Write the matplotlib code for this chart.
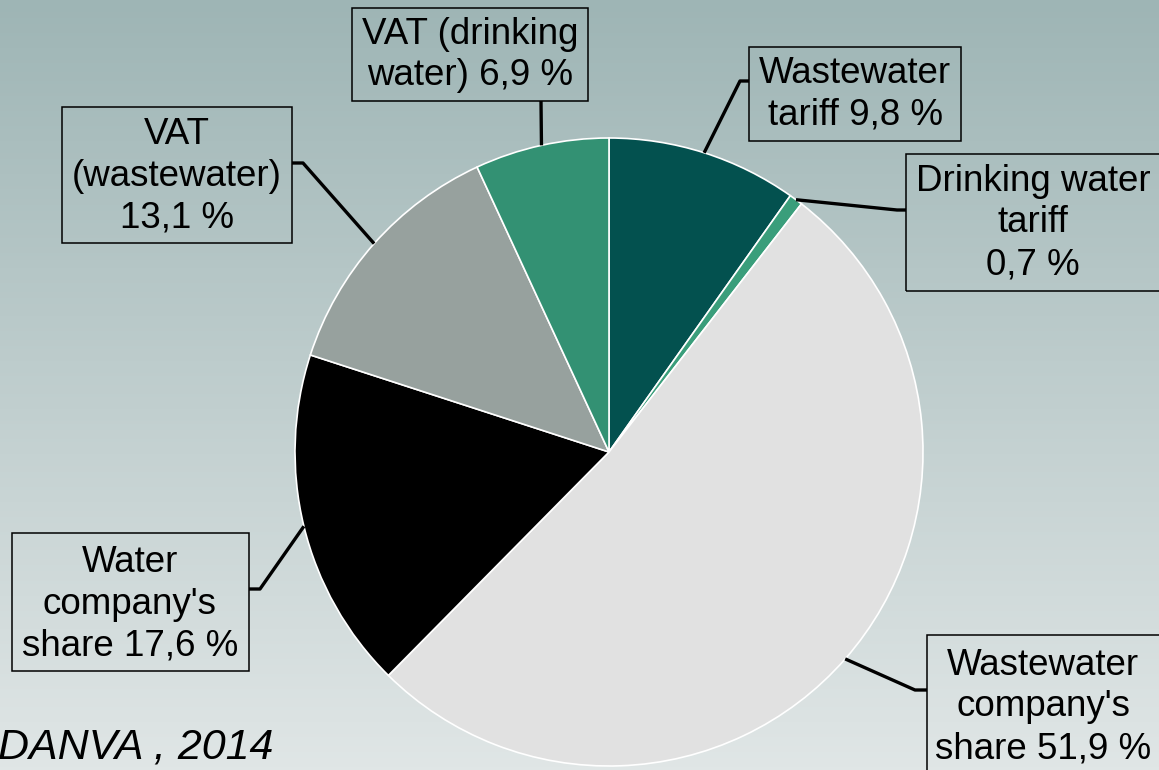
import numpy as np
import matplotlib.pyplot as plt
from matplotlib.patches import Rectangle

# pie data (clockwise from 12 o'clock)
labels = ["Wastewater\ntariff 9,8 %",
          "Drinking water\ntariff\n0,7 %",
          "Wastewater\ncompany's\nshare 51,9 %",
          "Water\ncompany's\nshare 17,6 %",
          "VAT\n(wastewater)\n13,1 %",
          "VAT (drinking\nwater) 6,9 %"]
shares = [9.8, 0.7, 51.9, 17.6, 13.1, 6.9]
colors = ["#03514f", "#3a9e7b", "#e1e1e1", "#000000", "#97a19e", "#339173"]

W, H = 1159, 770
fig = plt.figure(figsize=(W / 100, H / 100), dpi=100)
ax = fig.add_axes([0, 0, 1, 1])

# background gradient
grad = np.linspace(0, 1, 256).reshape(-1, 1)
top = np.array([158, 181, 181]) / 255
bot = np.array([224, 230, 230]) / 255
img = top + grad[..., None] * (bot - top)
ax.imshow(img, extent=[0, W, 0, H], aspect='auto', origin='upper', zorder=0)

cx, cy, r = 609, H - 452, 314
wedges, _ = ax.pie(shares, colors=colors, startangle=90, counterclock=False,
                   center=(cx, cy), radius=r,
                   wedgeprops=dict(edgecolor='white', linewidth=1.2))
for w in wedges:
    w.set_zorder(2)

# label boxes (x0, ytop, x1, ybottom in pixels from top) and leader elbows
boxes = [(749, 47, 961, 141), (906, 154, 1166, 291), (927, 635, 1166, 780),
         (12, 533, 249, 671), (62, 107, 292, 243), (352, 8, 588, 101)]
elbows = [[(740, 81), (749, 81)],
          [(897, 210), (906, 210)],
          [(915, 690), (927, 690)],
          [(260, 589), (249, 589)],
          [(303, 163), (292, 163)],
          [(541, 101)]]
# text centres (pixels from top), some boxes run off the edge
centres = [(855, 94), (1033, 223), (1043, 707),
           (130, 604), (177, 176), (470, 55)]

for w, lab, b, el, c in zip(wedges, labels, boxes, elbows, centres):
    ang = np.deg2rad((w.theta1 + w.theta2) / 2)
    px, py = cx + r * np.cos(ang), cy + r * np.sin(ang)
    xs = [px] + [p[0] for p in el]
    ys = [py] + [H - p[1] for p in el]
    ax.plot(xs, ys, color='black', lw=2.4, solid_capstyle='butt', zorder=3)
    x0, yt, x1, yb = b
    ax.add_patch(Rectangle((x0, H - yb), x1 - x0, yb - yt, fc='none',
                           ec='black', lw=1.1, zorder=3))
    ax.text(c[0], H - c[1], lab, ha='center', va='center', fontsize=26.5,
            family='Liberation Sans', linespacing=1.25, zorder=4)

ax.text(-2, H - 747, "DANVA , 2014", ha='left', va='center', fontsize=31,
        style='italic', family='Liberation Sans', zorder=4)

ax.set_xlim(0, W)
ax.set_ylim(0, H)
ax.set_aspect('auto')
ax.axis('off')
fig.savefig('out.png', dpi=100)
